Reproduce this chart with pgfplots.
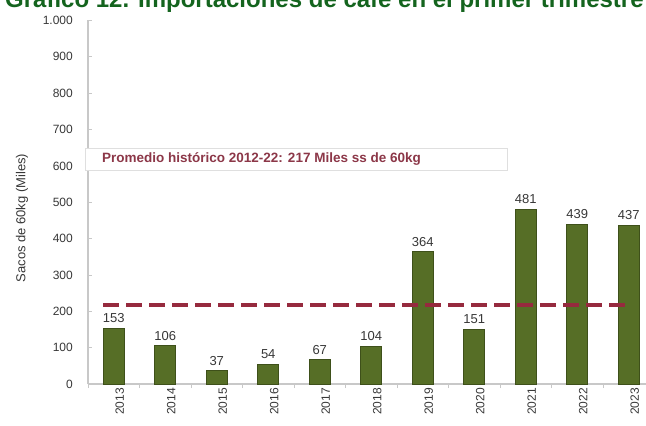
\documentclass[border=0pt]{standalone}
\usepackage{fontspec}
\setmainfont{Liberation Sans}
\usepackage{pgfplots}
\pgfplotsset{compat=1.18}

\definecolor{barfill}{RGB}{86,110,38}
\definecolor{bardraw}{RGB}{62,80,26}
\definecolor{avgline}{RGB}{150,42,62}
\definecolor{avgtext}{RGB}{140,55,72}
\definecolor{titlegreen}{RGB}{20,100,30}
\definecolor{axisgray}{RGB}{200,200,200}
\definecolor{labelgray}{RGB}{55,55,55}

\begin{document}
\begin{tikzpicture}
\begin{axis}[
  anchor=south west, at={(0pt,0pt)},
  scale only axis, width=566.5pt, height=363.5pt,
  xmin=-0.5, xmax=10.5, ymin=0, ymax=1000,
  axis x line*=bottom, axis y line*=left,
  axis line style={axisgray, line width=1.2pt},
  ytick={0,100,...,1000},
  xtick={0,...,10},
  xticklabels={2013,2014,2015,2016,2017,2018,2019,2020,2021,2022,2023},
  minor xtick={-0.5,0.5,...,10.5},
  tick align=inside,
  x tick style={draw=none},
  minor x tick style={draw=axisgray, line width=0.8pt},
  minor tick length=4pt,
  y tick style={draw=axisgray, line width=0.8pt},
  major tick length=4pt,
  /pgf/number format/.cd, 1000 sep={.}, assume math mode=true,
  /pgfplots/.cd,
  ticklabel style={font=\fontsize{12}{12}\selectfont, text=labelgray},
  yticklabel style={anchor=east, inner sep=0pt, xshift=-15pt},
  xticklabel style={rotate=90, anchor=east, inner sep=0pt, yshift=-6pt},
  ybar, bar width=21pt,
  nodes near coords,
  nodes near coords style={font=\fontsize{13}{13}\selectfont, text=labelgray,
    anchor=south, inner sep=0pt, yshift=5pt},
  clip=false,
]
\addplot[fill=barfill, draw=bardraw, line width=0.6pt] coordinates {
  (0,153) (1,106) (2,37) (3,54) (4,67) (5,104)
  (6,364) (7,151) (8,481) (9,439) (10,437)
};
% historical average 2012-22
\addplot[sharp plot, nodes near coords={}, avgline, line width=4.5pt,
  dash pattern=on 16pt off 7pt] coordinates {(-0.2,217) (10,217)};
\end{axis}

% average annotation box
\draw[draw=gray!25, fill=white, line width=0.6pt] (-3pt,214pt) rectangle (419pt,236pt);
\node[anchor=west, inner sep=0pt, text=avgtext,
  font=\fontsize{13.5}{13.5}\selectfont\bfseries] at (14pt,225.5pt)
  {Promedio histórico 2012-22: 217 Miles ss de 60kg};

% y axis label
\node[rotate=90, text=labelgray, font=\fontsize{13}{13}\selectfont]
  at (-66pt,166pt) {Sacos de 60kg (Miles)};

% title
\node[anchor=base west, inner sep=0pt, text=titlegreen,
  font=\fontsize{24}{24}\selectfont\bfseries] at (-83pt,376pt)
  {Gráfico 12. Importaciones de café en el primer trimestre};

\pgfresetboundingbox
\path[use as bounding box] (-88pt,-42pt) rectangle (558pt,384pt);
\end{tikzpicture}
\end{document}
